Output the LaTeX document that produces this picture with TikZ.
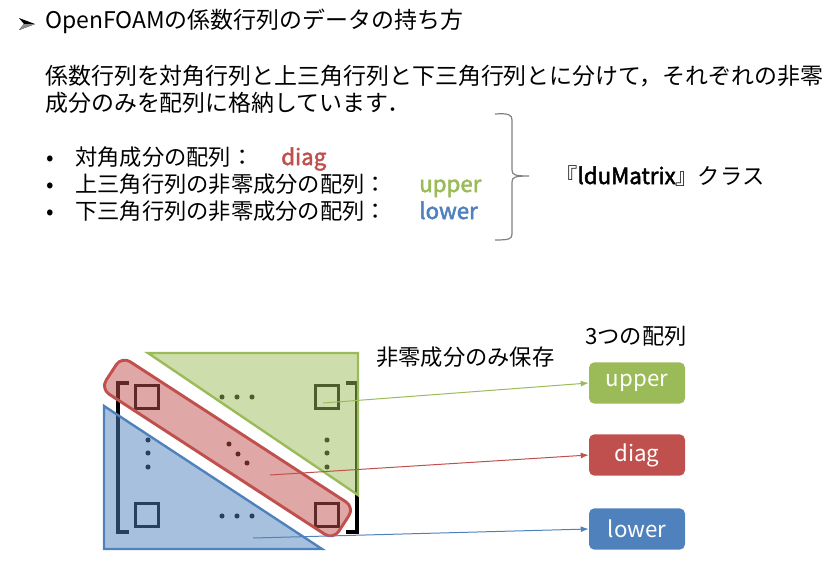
\documentclass[tikz,border=0pt]{standalone}
\usepackage{fontspec}
\setmainfont{Noto Sans CJK JP}
\newfontfamily\cjkbold{Noto Sans CJK JP}[FakeBold=2.2]
\usetikzlibrary{arrows.meta}
\definecolor{ogreen}{HTML}{9BBB59}
\definecolor{ored}{HTML}{C0504D}
\definecolor{oblue}{HTML}{4F81BD}
\begin{document}
\begin{tikzpicture}[x=0.75pt,y=-0.75pt,
 txt/.style={inner sep=0,anchor=base west,font=\fontsize{17.2}{21}\selectfont},
 btxt/.style={inner sep=0,anchor=base west,font=\fontsize{16.7}{20}\selectfont},
 bword/.style={inner sep=0,anchor=base west,font=\cjkbold\fontsize{16.7}{20}\selectfont},
 box/.style={rounded corners=4pt, minimum width=72pt, minimum height=31pt, text=white, font=\fontsize{16.7}{20}\selectfont, inner sep=0},
 mline/.style={line width=2.4pt, black},
 sq/.style={draw=black, line width=2pt, minimum size=17pt, inner sep=0},
 dt/.style={circle, fill=black, inner sep=0, minimum size=3.8pt},
 arr/.style={-{Latex[length=6pt,width=4.5pt]}, line width=0.75pt},
 tri/.style={line width=1.8pt, fill opacity=0.5},
]
\useasboundingbox (0,0) rectangle (835,561);
% header arrow bullet
\fill[black] (19,18) -- (35,24) -- (19,30) -- (24,24) -- cycle;
\fill[black!45] (35,24) -- (19,30) -- (24,24) -- cycle;
\node[txt] (title) at (45,28) {OpenFOAMの係数行列のデータの持ち方};
\node[txt] (p1) at (45,84) {係数行列を対角行列と上三角行列と下三角行列とに分けて，それぞれの非零};
\node[txt] (p2) at (45,111) {成分のみを配列に格納しています．};
% bullets
\node[btxt] (b1) at (46,165) {•};
\node[btxt] (b2) at (46,192) {•};
\node[btxt] (b3) at (46,219) {•};
\node[btxt] (t1) at (75,165) {対角成分の配列：};
\node[btxt] (t2) at (75,192) {上三角行列の非零成分の配列：};
\node[btxt] (t3) at (75,219) {下三角行列の非零成分の配列：};
\node[bword, text=ored] (w1) at (281,165) {diag};
\node[bword, text=ogreen] (w2) at (419,192) {upper};
\node[bword, text=oblue] (w3) at (419,219) {lower};
% brace
\draw[black!50, line width=0.9pt]
  (495,114) .. controls (509,113) and (512,115) .. (512,120) -- (512,170)
  .. controls (512,175) and (515,176) .. (529,176)
  .. controls (515,176) and (512,177) .. (512,182) -- (512,234)
  .. controls (512,239) and (509,240) .. (495,240);
\node[btxt] (cls) at (555,184) {『{\cjkbold lduMatrix}』クラス};
% matrix
\draw[mline] (129,383) -- (118,383) -- (118,532) -- (129,532);
\draw[mline] (346,383) -- (357,383) -- (357,532) -- (346,532);
\node[sq] (a11) at (147,397) {};
\node[sq] (a1n) at (327,397) {};
\node[sq] (an1) at (147,515) {};
\node[sq] (ann) at (327,515) {};
\foreach \x/\y [count=\i] in {222/397,237/397,252/397,222/516,237/516,252/516,148/440,148/453,148/467,327/440,327/453,327/467,229/444,238/454,247/463}
  \node[dt] (dot\i) at (\x,\y) {};
% overlay shapes
\draw[tri, draw=ogreen, fill=ogreen] (148,353) -- (358,353) -- (358,495) -- cycle;
\draw[tri, draw=oblue, fill=oblue] (104,406) -- (104,549) -- (322,549) -- cycle;
\node[draw=ored, line width=2.2pt, fill=ored, fill opacity=0.5, rounded corners=7.5pt,
      minimum width=208pt, minimum height=29pt, inner sep=0, rotate=-33] (band) at (227.5,448) {};
% labels
\node[btxt] (lbl1) at (376,365) {非零成分のみ保存};
\node[btxt] (lbl2) at (585,344) {3つの配列};
% boxes
\node[box, fill=ogreen] (upper) at (637,383) {upper};
\node[box, fill=ored] (diag) at (637,455) {diag};
\node[box, fill=oblue] (lower) at (637,529) {lower};
% arrows
\coordinate (su) at (323,403);
\coordinate (sd) at (270,475);
\coordinate (sl) at (253,538);
\draw[arr, ogreen] (su) -- (upper.west);
\draw[arr, ored] (sd) -- (diag.west);
\draw[arr, oblue] (sl) -- (lower.west);
\end{tikzpicture}
\end{document}
